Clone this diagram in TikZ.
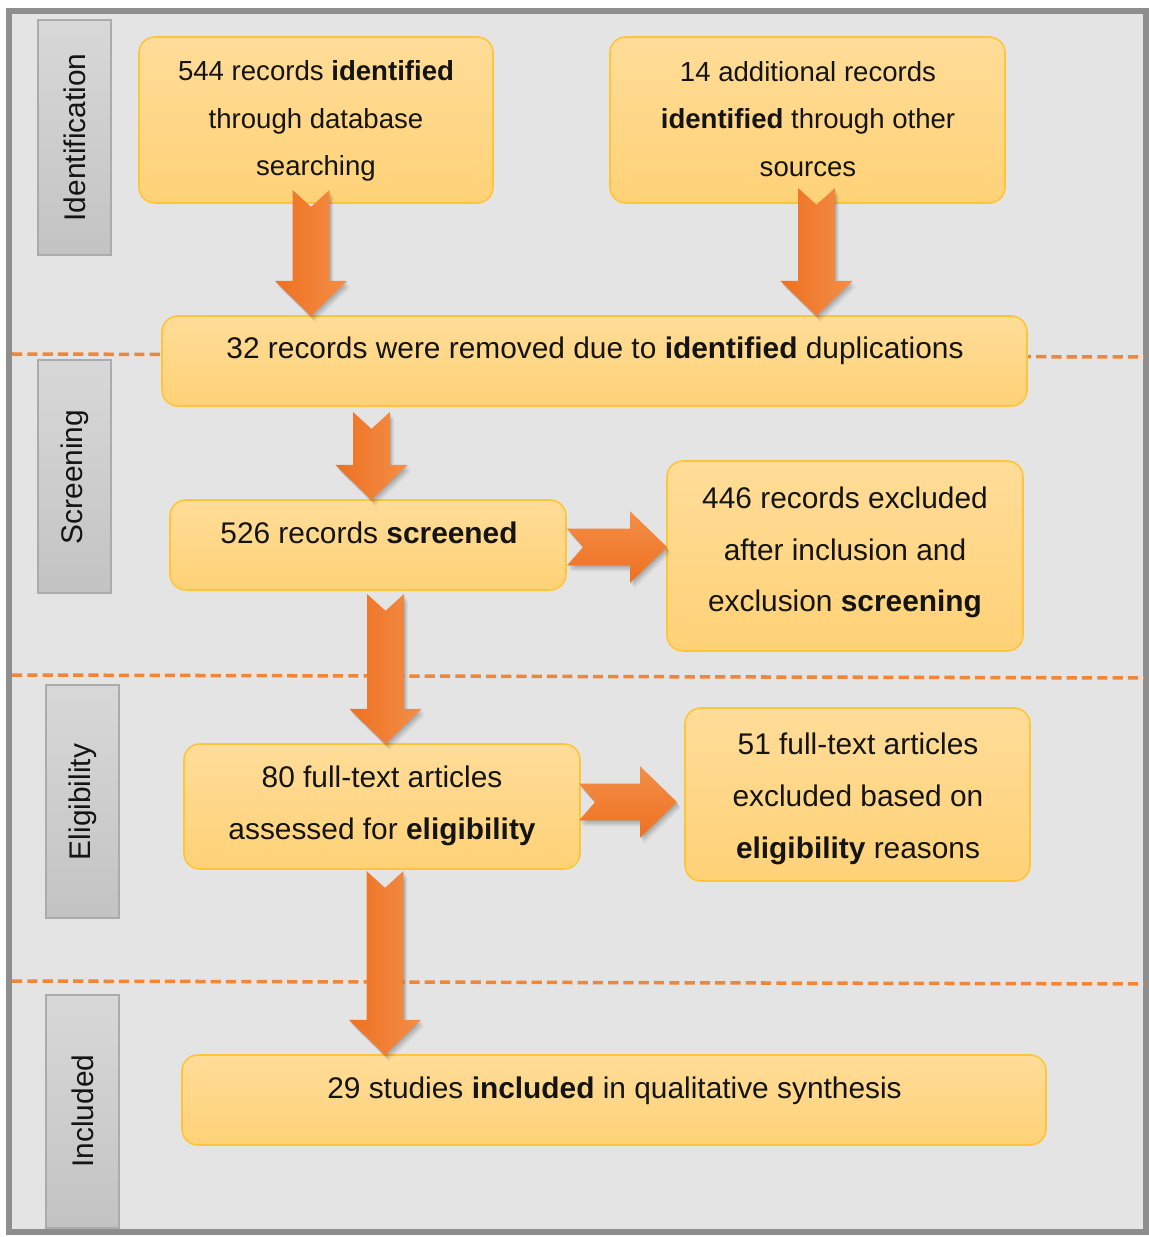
\documentclass[tikz,border=0pt]{standalone}
\usepackage{fontspec}
\setmainfont{Liberation Sans}
\usetikzlibrary{calc,shadows}

\definecolor{panel}{HTML}{E4E4E4}
\definecolor{panelrim}{HTML}{8E8E8E}
\definecolor{boxtop}{HTML}{FFDC98}
\definecolor{boxbottom}{HTML}{FFD277}
\definecolor{boxline}{HTML}{FFC53A}
\definecolor{tagtop}{HTML}{D8D8D8}
\definecolor{tagbottom}{HTML}{C3C3C3}
\definecolor{tagline}{HTML}{ABABAB}
\definecolor{arrowdark}{HTML}{EE7120}
\definecolor{arrowlight}{HTML}{F38E48}
\definecolor{phaseline}{HTML}{F08638}
\definecolor{ink}{HTML}{141414}

\tikzset{
  boxsize/.style 2 args={minimum width=#1*0.02cm, minimum height=#2*0.02cm},
  stagebox/.style={draw=boxline, line width=0.9pt, rounded corners=9pt,
    top color=boxtop, bottom color=boxbottom, inner sep=0pt, outer sep=0pt},
  stagetext/.style={text=ink, align=center, inner sep=0pt,
    font=\fontsize{17}{29.5}\selectfont},
  phasetag/.style={draw=tagline, line width=0.7pt, top color=tagtop,
    bottom color=tagbottom, inner sep=0pt, outer sep=0pt},
  phasetext/.style={text=ink, rotate=90, inner sep=0pt,
    font=\fontsize{17}{20}\selectfont},
  phasesep/.style={draw=phaseline, line width=2pt, dash pattern=on 5.8pt off 2.9pt},
  flowshadow/.style={
    drop shadow={shadow xshift=0.6pt, shadow yshift=-1.0pt, opacity=0.10, fill=black},
    drop shadow={shadow xshift=1.4pt, shadow yshift=-2.2pt, opacity=0.10, fill=black},
    drop shadow={shadow xshift=2.2pt, shadow yshift=-3.4pt, opacity=0.06, fill=black}},
}

% notched block arrow pointing down, from tail #1 to tip #2
\newcommand\flowdown[2]{%
  \path[flowshadow, left color=arrowdark, right color=arrowlight]
    let \p1=(#1), \p2=(#2) in
    (\x1-10.5pt,\y1) -- (\x1,\y1-9.6pt) -- (\x1+10.5pt,\y1)
    -- (\x1+10.5pt,\y2+20pt) -- (\x1+20.5pt,\y2+20pt) -- (\x1,\y2)
    -- (\x1-20.5pt,\y2+20pt) -- (\x1-10.5pt,\y2+20pt) -- cycle;}

% notched block arrow pointing right, from tail #1 to tip #2
\newcommand\flowright[2]{%
  \path[flowshadow, top color=arrowlight, bottom color=arrowdark]
    let \p1=(#1), \p2=(#2) in
    (\x1,\y1+10.5pt) -- (\x1+9.2pt,\y1) -- (\x1,\y1-10.5pt)
    -- (\x2-21pt,\y1-10.5pt) -- (\x2-21pt,\y1-20.3pt) -- (\x2,\y1)
    -- (\x2-21pt,\y1+20.3pt) -- (\x2-21pt,\y1+10.5pt) -- cycle;}

\begin{document}
\begin{tikzpicture}[x=0.02cm, y=-0.02cm]
  \useasboundingbox (0,0) rectangle (1149,1237);
  \fill[white] (0,0) rectangle (1149,1237);

  % panel
  \draw[panelrim, line width=3pt, fill=panel] (9,11) rectangle (1146,1232);

  % phase separators
  \draw[phasesep] (12,354) -- (1144,357);
  \draw[phasesep] (12,675) -- (1144,678);
  \draw[phasesep] (12,981) -- (1144,984);

  % phase tags
  \node[phasetag, boxsize={73}{235}] (pid) at (74.5,137.5) {};
  \node[phasetext] (pidt) at (75,137.5) {Identification};
  \node[phasetag, boxsize={73}{233}] (psc) at (74.5,476.5) {};
  \node[phasetext] (psct) at (75,477) {Screening};
  \node[phasetag, boxsize={73}{233}] (pel) at (82.5,801.5) {};
  \node[phasetext] (pelt) at (83,802) {Eligibility};
  \node[phasetag, boxsize={73}{233}] (pin) at (82.5,1111.5) {};
  \node[phasetext] (pint) at (83,1111) {Included};

  % stage boxes
  \node[stagebox, boxsize={354}{166}] (a) at (316,120) {};
  \node[stagebox, boxsize={395}{166}] (b) at (807.5,120) {};
  \node[stagebox, boxsize={865}{90}] (c) at (594.5,361) {};
  \node[stagebox, boxsize={396}{90}] (d) at (368,545) {};
  \node[stagebox, boxsize={356}{190}] (e) at (845,556) {};
  \node[stagebox, boxsize={396}{125}] (f) at (382,806.5) {};
  \node[stagebox, boxsize={345}{173}] (g) at (857.5,794.5) {};
  \node[stagebox, boxsize={864}{90}] (h) at (614,1100) {};

  % stage texts
  \node[stagetext, font=\fontsize{15.7}{27}\selectfont] (at) at (316,121)
    {544 records \textbf{identified}\\through database\\searching};
  \node[stagetext, font=\fontsize{15.7}{27}\selectfont] (bt) at (808,119)
    {14 additional records\\\textbf{identified} through other\\sources};
  \node[stagetext] (ct) at (595,351)
    {32 records were removed due to \textbf{identified} duplications};
  \node[stagetext] (dt) at (369,533) {526 records \textbf{screened}};
  \node[stagetext] (et) at (845,552.5)
    {446 records excluded\\after inclusion and\\exclusion \textbf{screening}};
  \node[stagetext] (ft) at (382,806)
    {80 full-text articles\\assessed for \textbf{eligibility}};
  \node[stagetext] (gt) at (858,799)
    {51 full-text articles\\excluded based on\\\textbf{eligibility} reasons};
  \node[stagetext] (ht) at (614.5,1091)
    {29 studies \textbf{included} in qualitative synthesis};

  % arrow tails
  \coordinate (a1) at (311,190);
  \coordinate (b1) at (816.5,188);
  \coordinate (c1) at (371.5,412);
  \coordinate (d1) at (567,547);
  \coordinate (d2) at (385.5,594);
  \coordinate (f1) at (579,802);
  \coordinate (f2) at (385,871);

  % flow
  \flowdown{a1}{a1|-c.north}
  \flowdown{b1}{b1|-c.north}
  \flowdown{c1}{c1|-d.north}
  \flowright{d1}{d1-|e.west}
  \flowdown{d2}{d2|-f.north}
  \flowright{f1}{$(f1-|g.west)+(-8,0)$}
  \flowdown{f2}{f2|-h.north}
\end{tikzpicture}
\end{document}
